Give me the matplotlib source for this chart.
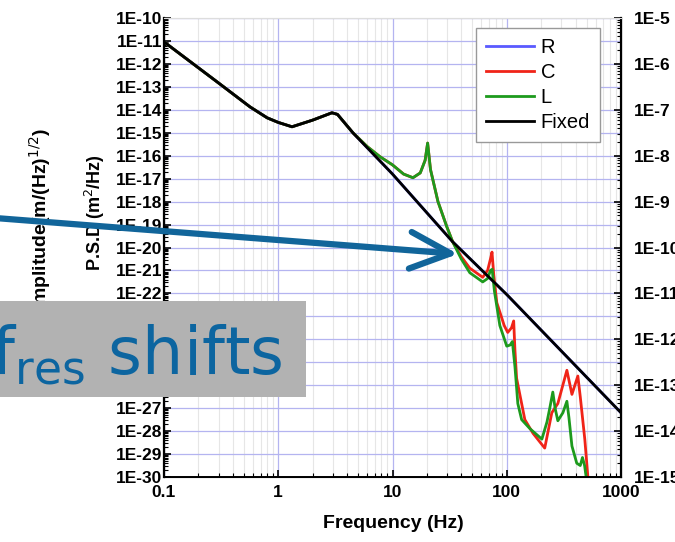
import numpy as np
import matplotlib
matplotlib.use('Agg')
import matplotlib.pyplot as plt
import matplotlib.patches as mpatches
from matplotlib.ticker import FixedLocator, LogLocator, NullFormatter

plt.rcParams['font.family'] = ['Liberation Sans', 'DejaVu Sans']

# data (log10 of PSD in m^2/Hz)
freq_fixed = [0.1, 0.3, 0.565, 0.8, 1.0, 1.32, 2.0, 2.95, 3.3, 4.5, 10, 33.6, 100, 1000]
psd_fixed_log = [-11.04, -12.83, -13.87, -14.35, -14.55, -14.74, -14.45, -14.13, -14.2,
                 -15.0, -16.8, -19.75, -22.05, -27.2]

freq_L = [0.1, 0.3, 0.565, 0.8, 1.0, 1.32, 2.0, 2.95, 3.3, 4.5, 6.0, 7.8, 10, 12.5, 15.1,
          17.5, 19.3, 20.3, 21.5, 25, 29.9, 33.6, 40, 47.5, 61.6, 68, 72, 74.5, 78, 87,
          100, 107, 112, 118, 125, 135, 160, 203, 225, 238, 253, 265, 280, 310, 336, 350,
          372, 410, 440, 460, 480, 505, 520]
psd_L_log = [-11.04, -12.83, -13.87, -14.35, -14.55, -14.74, -14.45, -14.13, -14.2, -15.0,
             -15.6, -16.05, -16.4, -16.8, -16.96, -16.75, -16.2, -15.45, -16.6, -18.0,
             -19.1, -19.75, -20.5, -21.1, -21.5, -21.35, -21.0, -20.95, -21.9, -23.4,
             -24.3, -24.25, -24.1, -25.2, -26.8, -27.5, -27.9, -28.35, -27.6, -27.0,
             -26.3, -27.0, -27.55, -27.2, -26.7, -27.4, -28.65, -29.4, -29.5, -29.15,
             -29.5, -30.3, -31.0]

freq_C = [0.1, 0.3, 0.565, 0.8, 1.0, 1.32, 2.0, 2.95, 3.3, 4.5, 6.0, 7.8, 10, 12.5, 15.1,
          17.5, 19.3, 20.3, 21.5, 25, 29.9, 33.6, 40, 47.5, 61.6, 68, 72, 74.3, 77, 81.8,
          95, 102, 110, 115, 118, 122, 144, 170, 215, 248, 280, 336, 372, 419, 440, 482,
          513, 530]
psd_C_log = [-11.04, -12.83, -13.87, -14.35, -14.55, -14.74, -14.45, -14.13, -14.2, -15.0,
             -15.6, -16.05, -16.4, -16.8, -16.96, -16.75, -16.2, -15.45, -16.6, -18.0,
             -19.1, -19.75, -20.4, -20.9, -21.3, -21.0, -20.5, -20.2, -21.2, -22.4,
             -23.4, -23.7, -23.5, -23.2, -24.5, -25.7, -27.5, -28.1, -28.74, -27.2,
             -26.8, -25.35, -26.4, -25.6, -26.5, -28.35, -30.0, -31.0]

# R is hidden under the others in the picture
freq_R = freq_fixed
psd_R_log = psd_fixed_log

x_ticks = [0.1, 1, 10, 100, 1000]
x_labels = ['0.1', '1', '10', '100', '1000']
left_exp = list(range(-30, -9))
right_exp = list(range(-15, -4))

W, H = 675, 542


def px(x, y):
    return (x / W, 1 - y / H)


fig = plt.figure(figsize=(W / 100, H / 100), dpi=100)
ax = fig.add_axes([164 / W, 1 - 477 / H, (621 - 164) / W, (477 - 18) / H])

ax.plot(freq_R, 10.0 ** np.array(psd_R_log), color='#5a5aff', lw=2.0, label='R')
ax.plot(freq_C, 10.0 ** np.array(psd_C_log), color='#f02418', lw=2.0, label='C')
ax.plot(freq_L, 10.0 ** np.array(psd_L_log), color='#1d9a1d', lw=2.0, label='L')
ax.plot(freq_fixed, 10.0 ** np.array(psd_fixed_log), color='black', lw=2.0, label='Fixed')

ax.set_xscale('log')
ax.set_yscale('log')
ax.set_xlim(0.1, 1000)
ax.set_ylim(1e-30, 1e-10)

ax.xaxis.set_major_locator(FixedLocator(x_ticks))
ax.set_xticklabels(x_labels)
ax.xaxis.set_minor_locator(LogLocator(base=10, subs=np.arange(2, 10), numticks=50))
ax.xaxis.set_minor_formatter(NullFormatter())
ax.yaxis.set_major_locator(FixedLocator([10.0 ** e for e in left_exp]))
ax.set_yticklabels(['1E%d' % e for e in left_exp])
ax.yaxis.set_minor_locator(LogLocator(base=10, subs=np.arange(2, 10), numticks=100))
ax.yaxis.set_minor_formatter(NullFormatter())

ax.grid(which='major', color='#b4b4f0', lw=0.9)
ax.xaxis.grid(which='minor', color='#e6e6e6', lw=0.8)
ax.set_axisbelow(True)

ax.tick_params(which='both', direction='in', top=False, right=False, colors='black')
ax.tick_params(which='major', length=5, width=1.2)
ax.tick_params(which='minor', length=3, width=0.8)
ax.tick_params(axis='y', pad=1, labelsize=12.5)
ax.tick_params(axis='x', pad=6, labelsize=12.5)
for lab in ax.get_xticklabels() + ax.get_yticklabels():
    lab.set_fontweight('bold')

ax.spines['top'].set_color('#dddddd')
ax.spines['left'].set_linewidth(1.6)
ax.spines['bottom'].set_linewidth(1.4)

ax2 = ax.twinx()
ax2.set_yscale('log')
ax2.set_ylim(1e-15, 1e-5)
ax2.yaxis.set_major_locator(FixedLocator([10.0 ** e for e in right_exp]))
ax2.set_yticklabels(['1E%d' % e for e in right_exp])
ax2.yaxis.set_minor_locator(LogLocator(base=10, subs=np.arange(2, 10), numticks=100))
ax2.yaxis.set_minor_formatter(NullFormatter())
ax2.tick_params(which='both', direction='in')
ax2.tick_params(which='major', length=5, width=1.2, pad=9, labelsize=12.5)
ax2.tick_params(which='minor', length=3, width=0.8)
for lab in ax2.get_yticklabels():
    lab.set_fontweight('bold')
ax2.spines['right'].set_linewidth(1.6)
ax2.spines['top'].set_color('#dddddd')

leg = ax.legend(loc='upper right', bbox_to_anchor=(0.954, 0.978), borderaxespad=0,
                fontsize=14.5, fancybox=False, framealpha=1, edgecolor='#999999',
                handlelength=2.4, handletextpad=0.3, labelspacing=0.3, borderpad=0.5)
leg.get_frame().set_linewidth(1.0)

fig.text(*px(393, 524), 'Frequency (Hz)', ha='center', va='center',
         fontsize=14, weight='bold')
fig.text(*px(95, 213), 'P.S.D (m$^2$/Hz)', rotation=90, ha='center', va='center',
         fontsize=13, weight='bold')
fig.text(*px(40, 128), 'Amplitude(m/(Hz)$^{1/2}$)', rotation=90, ha='center', va='top',
         fontsize=14, weight='bold', zorder=2)

# slide overlay: arrow and grey label box
arrow = mpatches.FancyArrowPatch(px(-5, 218), px(458, 254), transform=fig.transFigure,
                                 arrowstyle='->,head_length=1.45,head_width=0.66',
                                 mutation_scale=20, lw=4.5, color='#11659a',
                                 shrinkA=0, shrinkB=0,
                                 capstyle='round', joinstyle='round', zorder=8)
fig.add_artist(arrow)
box = mpatches.Rectangle(px(0, 397), 306 / W, 96 / H, transform=fig.transFigure,
                         facecolor='#b2b2b2', edgecolor='none', zorder=9)
fig.add_artist(box)
fig.text(*px(283, 375), 'f$_{\\mathrm{res}}$ shifts', ha='right', va='baseline',
         fontsize=47, color='#0c65a0', family='DejaVu Sans', zorder=10)

fig.savefig('out.png', dpi=100)
